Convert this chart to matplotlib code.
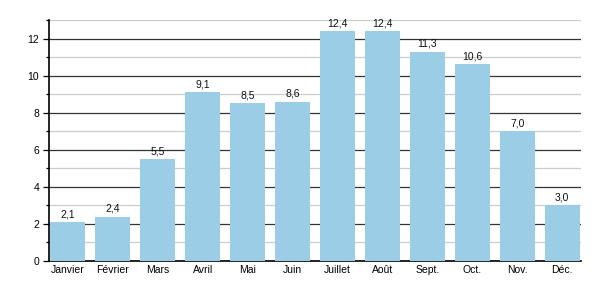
import matplotlib
matplotlib.use("Agg")
import matplotlib.pyplot as plt
from matplotlib.ticker import MultipleLocator

months = ["Janvier", "Février", "Mars", "Avril", "Mai", "Juin", "Juillet", "Août", "Sept.", "Oct.", "Nov.", "Déc."]
values = [2.1, 2.4, 5.5, 9.1, 8.5, 8.6, 12.4, 12.4, 11.3, 10.6, 7.0, 3.0]

plt.rcParams['font.family'] = ['Liberation Sans', 'DejaVu Sans']
fig = plt.figure(figsize=(6, 3), dpi=100)
ax = fig.add_axes([49/600, 39/300, 532/600, 241/300])

x = list(range(len(months)))
bars = ax.bar(x, values, width=0.78, color="#9BCDE6", zorder=3)
for xi, v in zip(x, values):
    ax.text(xi, v + 0.15, f"{v:.1f}".replace(".", ","), ha="center", va="bottom", fontsize=7.5, color="#111111")

ax.set_xlim(-0.42, 11.42)
ax.set_ylim(0, 13)
ax.yaxis.set_major_locator(MultipleLocator(2))
ax.yaxis.set_minor_locator(MultipleLocator(1))
ax.grid(axis="y", which="major", color="#333333", linewidth=0.9, zorder=0)
ax.grid(axis="y", which="minor", color="#cccccc", linewidth=0.9, zorder=0)
ax.set_axisbelow(True)

ax.set_xticks(x)
ax.set_xticklabels(months)
ax.tick_params(axis="x", length=0, labelsize=7.5, pad=3)
ax.tick_params(axis="y", which="major", length=4, width=0.9, labelsize=7.5, pad=3)
ax.tick_params(axis="y", which="minor", length=2.5, width=0.9)

for s in ["top", "right"]:
    ax.spines[s].set_visible(False)
ax.spines["left"].set_linewidth(1.2)
ax.spines["bottom"].set_linewidth(1.2)

fig.savefig("out.png", dpi=100)
